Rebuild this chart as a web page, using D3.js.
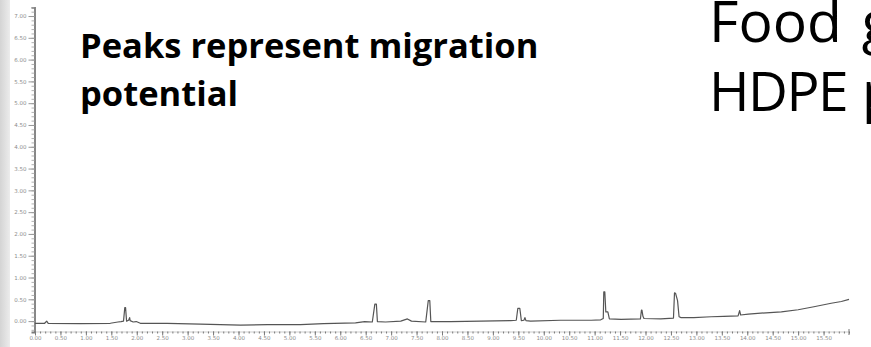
<!DOCTYPE html>
<html>
<head>
<meta charset="utf-8">
<script src="https://cdn.jsdelivr.net/npm/d3@7/dist/d3.min.js"></script>
<style>
  html, body { margin: 0; padding: 0; background: #fff; overflow: hidden; }
  svg { display: block; }
</style>
</head>
<body>
<svg id="chart" width="871" height="347"></svg>
<script>
// ---- Data ----
const retentionTime = [
  0.00, 0.19, 0.23, 0.26, 0.89, 1.48, 1.63, 1.69, 1.74, 1.765, 1.78, 1.80, 1.84, 1.86, 1.87, 1.93, 1.99, 2.07,
  2.60, 3.25, 4.04, 4.57, 5.22, 5.67, 6.30, 6.48, 6.63, 6.68, 6.71, 6.73, 6.89, 7.19, 7.32, 7.40, 7.68,
  7.73, 7.76, 7.78, 8.17, 8.76, 9.35, 9.46, 9.49, 9.53, 9.56, 9.61, 9.63, 9.65, 9.74, 10.33, 10.93,
  11.12, 11.17, 11.18, 11.20, 11.22, 11.26, 11.29, 11.52, 11.90, 11.92, 11.93, 11.95, 11.97, 12.30,
  12.55, 12.57, 12.59, 12.63, 12.66, 12.70, 12.95, 13.29, 13.54, 13.82, 13.85, 13.87, 14.02, 14.37,
  14.67, 15.00, 15.31, 15.65, 15.85, 16.00
];
const abundance = [
  -0.05, -0.05, 0.00, -0.05, -0.06, -0.05, -0.02, -0.01, 0.00, 0.31, 0.31, 0.00, 0.02, 0.08, 0.01, -0.02, -0.01, -0.05,
  -0.05, -0.07, -0.09, -0.08, -0.08, -0.06, -0.04, -0.01, -0.02, 0.39, 0.39, -0.01, -0.02, 0.00, 0.05, 0.00, -0.02,
  0.47, 0.47, -0.01, -0.01, 0.00, 0.01, 0.02, 0.29, 0.29, 0.01, 0.02, 0.08, 0.01, 0.00, 0.02, 0.02,
  0.03, 0.06, 0.67, 0.67, 0.21, 0.21, 0.05, 0.04, 0.05, 0.25, 0.25, 0.11, 0.06, 0.05,
  0.07, 0.65, 0.64, 0.47, 0.10, 0.08, 0.08, 0.10, 0.11, 0.12, 0.24, 0.14, 0.16, 0.19,
  0.21, 0.26, 0.33, 0.41, 0.45, 0.50
];
const xTickLabels = d3.range(0, 16, 0.5).map(v => v.toFixed(2));
const yTickLabels = d3.range(0, 7.01, 0.5).map(v => v.toFixed(2));
const titleLines = ["Food g", "HDPE p"];
const noteLines = ["Peaks represent migration", "potential"];

// ---- Layout ----
const svg = d3.select("#chart");
const W = 871, H = 347;

// left grey strip (window edge)
const defs = svg.append("defs");
const grad = defs.append("linearGradient").attr("id", "edge").attr("x1", 0).attr("x2", 1);
grad.append("stop").attr("offset", "0%").attr("stop-color", "#d4d4d4");
grad.append("stop").attr("offset", "100%").attr("stop-color", "#ececec");
svg.append("rect").attr("x", 0).attr("y", 0).attr("width", 10).attr("height", H).attr("fill", "url(#edge)");

const x = d3.scaleLinear().domain([0, 16]).range([35, 849]);
const y = d3.scaleLinear().domain([-0.25, 7.2]).range([332, 7.3]);

// ---- Y axis ----
const gy = svg.append("g").attr("transform", "translate(34.5,0)");
gy.call(d3.axisLeft(y).tickValues(d3.range(-0.2, 7.21, 0.1).map(v => +v.toFixed(1))).tickSize(3).tickFormat(""))
  .call(g => g.select(".domain").attr("stroke", "#7a7a7a").attr("stroke-width", 1.8))
  .call(g => g.selectAll(".tick line").attr("stroke", "#a8a8a8").attr("stroke-width", 0.9));
const gyMajor = svg.append("g").attr("transform", "translate(34.5,0)");
gyMajor.call(d3.axisLeft(y).tickValues(yTickLabels.map(Number)).tickSize(6).tickPadding(2)
    .tickFormat((d, i) => yTickLabels[i]))
  .call(g => g.select(".domain").remove())
  .call(g => g.selectAll(".tick line").attr("stroke", "#999").attr("stroke-width", 1))
  .call(g => g.selectAll(".tick text").attr("fill", "#8c8c8c").attr("font-size", 5.5)
      .attr("font-family", "DejaVu Sans, sans-serif"));

// ---- X axis ----
const gx = svg.append("g").attr("transform", "translate(0,331.5)");
gx.call(d3.axisBottom(x).tickValues(d3.range(0, 16.01, 0.1).map(v => +v.toFixed(1))).tickSize(2).tickFormat(""))
  .call(g => g.select(".domain").attr("stroke", "#c0c0c0").attr("stroke-width", 0.8))
  .call(g => g.selectAll(".tick line").attr("stroke", "#7a7a7a").attr("stroke-width", 1));
const gxMajor = svg.append("g").attr("transform", "translate(0,331.5)");
gxMajor.call(d3.axisBottom(x).tickValues(xTickLabels.map(Number)).tickSize(4).tickPadding(1)
    .tickFormat((d, i) => xTickLabels[i]))
  .call(g => g.select(".domain").remove())
  .call(g => g.selectAll(".tick line").attr("stroke", "#7a7a7a").attr("stroke-width", 1))
  .call(g => g.selectAll(".tick text").attr("fill", "#8c8c8c").attr("font-size", 5.5)
      .attr("font-family", "DejaVu Sans, sans-serif"));
// end tick
svg.append("line").attr("x1", x(16)).attr("x2", x(16)).attr("y1", 329).attr("y2", 335)
  .attr("stroke", "#777").attr("stroke-width", 1);

// ---- Signal trace ----
const pts = retentionTime.map((t, i) => [t, abundance[i]]);
svg.append("path")
  .datum(pts)
  .attr("fill", "none")
  .attr("stroke", "#555")
  .attr("stroke-width", 1.2)
  .attr("stroke-linejoin", "round")
  .attr("d", d3.line().x(d => x(d[0])).y(d => y(d[1])));

// ---- Texts ----
svg.append("text").attr("x", 80).attr("y", 58)
  .attr("font-family", "Open Sans, sans-serif").attr("font-weight", 700).attr("font-size", 34.5)
  .attr("fill", "#000").text(noteLines[0]);
svg.append("text").attr("x", 80).attr("y", 106)
  .attr("font-family", "Open Sans, sans-serif").attr("font-weight", 700).attr("font-size", 34.5)
  .attr("fill", "#000").text(noteLines[1]);

svg.append("text").attr("x", 709).attr("y", 42)
  .attr("font-family", "Open Sans, sans-serif").attr("font-size", 57).attr("word-spacing", 5)
  .attr("fill", "#000").text(titleLines[0]);
svg.append("text").attr("x", 709).attr("y", 111)
  .attr("font-family", "Open Sans, sans-serif").attr("font-size", 55).attr("letter-spacing", -1.5)
  .attr("word-spacing", 2)
  .attr("fill", "#000").text(titleLines[1]);
</script>
</body>
</html>
